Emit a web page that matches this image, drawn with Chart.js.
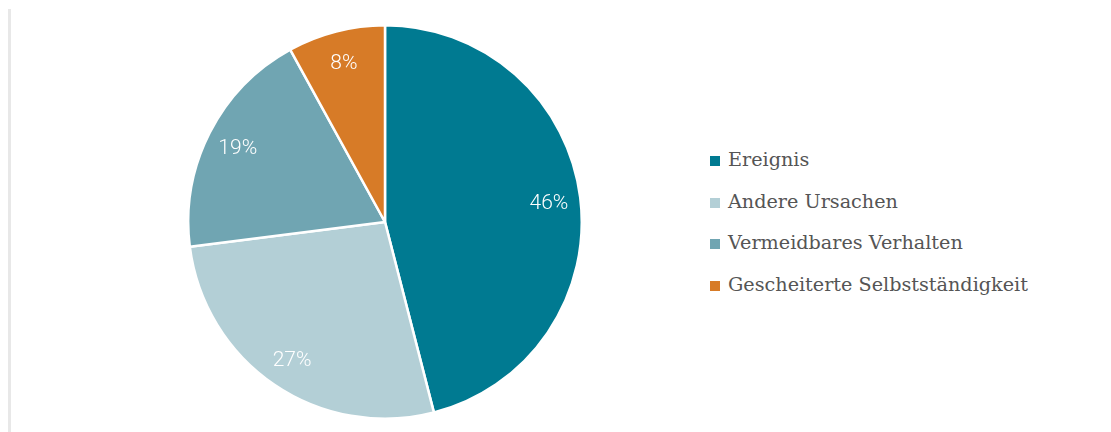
<!DOCTYPE html>
<html>
<head>
<meta charset="utf-8">
<script src="https://cdn.jsdelivr.net/npm/chart.js@4/dist/chart.umd.min.js"></script>
<style>
  body { margin: 0; background: #fff; width: 1111px; height: 432px; overflow: hidden; position: relative; }
  .rule { position: absolute; left: 8px; top: 9px; width: 3px; height: 423px; background: #e8e8e8; }
  #pieBox { position: absolute; left: 185px; top: 22px; width: 400px; height: 400px; }
  #legend { position: absolute; left: 710px; top: 148px; font-family: "DejaVu Serif", serif; font-size: 19.2px; font-weight: 300; color: #555; }
  #legend div { height: 41.5px; display: flex; align-items: flex-start; }
  #legend span.box { width: 10px; height: 10px; margin-right: 8px; margin-top: 8px; }
</style>
</head>
<body>
<div class="rule"></div>
<div id="pieBox"><canvas id="myChart"></canvas></div>
<div id="legend"></div>
<script>
const labels = ['Ereignis', 'Andere Ursachen', 'Vermeidbares Verhalten', 'Gescheiterte Selbstständigkeit'];
const values = [46, 27, 19, 8];
const colors = ['#007a91', '#b3cfd6', '#70a5b2', '#d77b27'];

const ctx = document.getElementById('myChart');

// percent labels inside the slices
const sliceLabels = {
    id: 'sliceLabels',
    afterDatasetsDraw(chart) {
        const c = chart.ctx;
        const meta = chart.getDatasetMeta(0);
        c.save();
        c.fillStyle = '#fff';
        c.font = '300 21px Roboto, sans-serif';
        c.textAlign = 'center';
        c.textBaseline = 'middle';
        meta.data.forEach((arc, i) => {
            const mid = (arc.startAngle + arc.endAngle) / 2;
            const r = arc.outerRadius * 0.84;
            c.fillText(values[i] + '%', arc.x + Math.cos(mid) * r, arc.y + Math.sin(mid) * r + 2);
        });
        c.restore();
    }
};

new Chart(ctx, {
    type: 'pie',
    data: {
        labels: labels,
        datasets: [{
            data: values,
            backgroundColor: colors,
            borderColor: '#fff',
            borderWidth: 2.5
        }]
    },
    options: {
        responsive: true,
        maintainAspectRatio: false,
        animation: false,
        layout: { padding: 2 },
        plugins: {
            legend: { display: false },
            tooltip: { enabled: false }
        }
    },
    plugins: [sliceLabels]
});

const legend = document.getElementById('legend');
labels.forEach((l, i) => {
    const row = document.createElement('div');
    row.innerHTML = `<span class="box" style="background:${colors[i]}"></span><span>${l}</span>`;
    legend.append(row);
});
</script>
</body>
</html>
